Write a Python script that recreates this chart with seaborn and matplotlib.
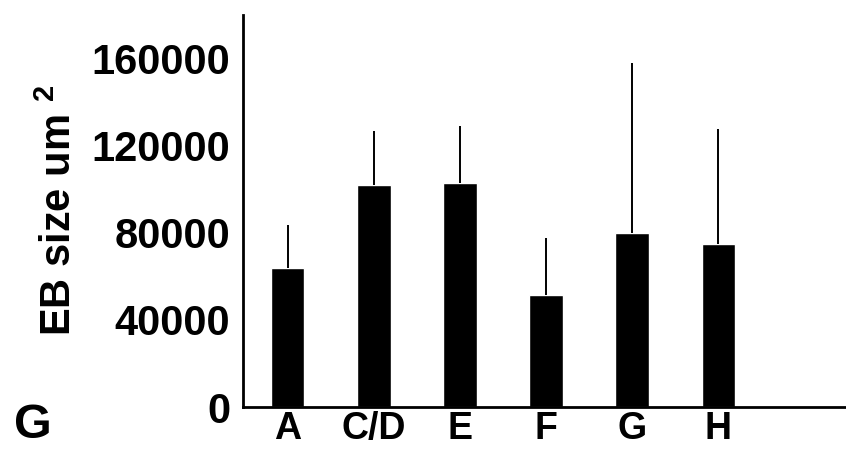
import numpy as np
import pandas as pd
import matplotlib
matplotlib.use("Agg")
import matplotlib.pyplot as plt
import seaborn as sns

# values
groups = ["A", "C/D", "E", "F", "G", "H"]
eb_size = [64000, 102000, 103000, 51500, 80000, 75000]
err_top = [83500, 126500, 129000, 77500, 158000, 127500]

sns.set_theme(style="white")
plt.rcParams["font.family"] = ["Liberation Sans", "DejaVu Sans"]
plt.rcParams["font.weight"] = "bold"
plt.rcParams["text.color"] = "black"
plt.rcParams["axes.labelcolor"] = "black"
plt.rcParams["xtick.color"] = "black"
plt.rcParams["ytick.color"] = "black"
plt.rcParams["mathtext.fontset"] = "custom"
plt.rcParams["mathtext.bf"] = "Liberation Sans:bold"
plt.rcParams["mathtext.rm"] = "Liberation Sans:bold"

df = pd.DataFrame({"group": groups, "size": eb_size})
upper = np.array(err_top) - np.array(eb_size)

fig = plt.figure(figsize=(8.46, 4.53), dpi=100)
ax = fig.add_axes([0.287, 0.1015, 0.72, 0.866])

sns.barplot(data=df, x="group", y="size", color="black", width=0.39,
            errorbar=None, ax=ax, saturation=1)
ax.errorbar(range(len(groups)), eb_size, yerr=[np.zeros(len(groups)), upper],
            fmt="none", ecolor="black", elinewidth=1.4, capsize=0)

ax.set_ylim(0, 180000)
ax.set_xlim(-0.52, 6.55)
ax.set_yticks([0, 40000, 80000, 120000, 160000])
ax.set_yticklabels(["0", "40000", "80000", "120000", "160000"])
ax.tick_params(axis="y", labelsize=30, length=3, width=1.5, pad=6, direction="out")
ax.tick_params(axis="x", labelsize=27, length=0, pad=3)
for lab in ax.get_xticklabels() + ax.get_yticklabels():
    lab.set_fontweight("bold")

sns.despine(ax=ax)
ax.spines["left"].set_linewidth(2)
ax.spines["bottom"].set_linewidth(2)
ax.spines["left"].set_color("black")
ax.spines["bottom"].set_color("black")

ax.set_xlabel("")
ax.set_ylabel(r"EB size um $^{\mathbf{2}}$", fontsize=30, fontweight="bold", labelpad=8)

fig.text(0.016, 0.012, "G", fontsize=35, fontweight="bold", ha="left", va="bottom")

fig.savefig("out.png", dpi=100, facecolor="white")
